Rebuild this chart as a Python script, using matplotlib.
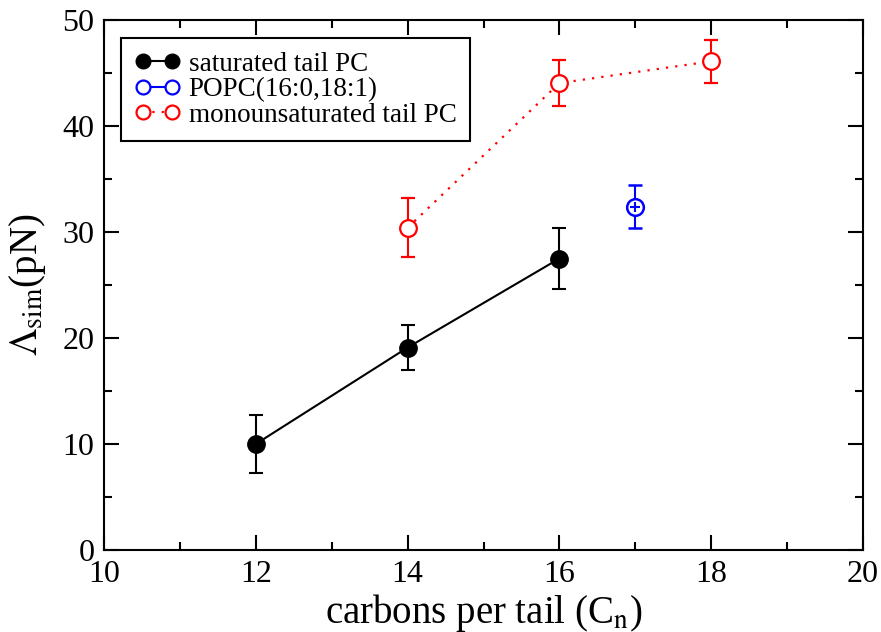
import matplotlib
matplotlib.use("Agg")
import matplotlib.pyplot as plt
from matplotlib.lines import Line2D
from matplotlib.ticker import MultipleLocator

plt.rcParams['font.family'] = ['Liberation Serif', 'DejaVu Serif']
plt.rcParams['mathtext.fontset'] = 'stix'

# Saturated-tail PC
sat_x = [12, 14, 16]
sat_y = [10.0, 19.1, 27.5]
sat_err = [2.7, 2.1, 2.9]

# POPC (16:0, 18:1)
popc_x = [17]
popc_y = [32.4]
popc_err = [2.0]

# Monounsaturated-tail PC
mono_x = [14, 16, 18]
mono_y = [30.4, 44.05, 46.1]
mono_err = [2.8, 2.2, 2.0]

labels = ["saturated tail PC", "POPC(16:0,18:1)", "monounsaturated tail PC"]

fig = plt.figure(figsize=(8.81, 6.32), dpi=100)
ax = fig.add_axes([104 / 881, 1 - 550 / 632, 759 / 881, 530 / 632])

ax.errorbar(sat_x, sat_y, yerr=sat_err, color='black', lw=1.5, marker='o',
            ms=12.5, mfc='black', mec='black', capsize=5, capthick=1.5,
            elinewidth=1.5, zorder=3)
ax.errorbar(mono_x, mono_y, yerr=mono_err, color='red', lw=1.6,
            linestyle=(0, (1, 3.2)), marker='o', ms=12, mfc='white',
            mec='red', mew=1.6, capsize=5, capthick=1.5, elinewidth=1.5,
            zorder=3)
ax.errorbar(popc_x, popc_y, yerr=popc_err, color='blue', lw=1.5, marker='o',
            ms=12, mfc='white', mec='blue', mew=1.8, capsize=5, capthick=1.5,
            elinewidth=1.5, zorder=3)
ax.plot(popc_x, popc_y, linestyle='none', marker='+', ms=7, mew=1.5,
        color='blue', zorder=4)

ax.set_xlim(10, 20)
ax.set_ylim(0, 50)
ax.xaxis.set_major_locator(MultipleLocator(2))
ax.xaxis.set_minor_locator(MultipleLocator(1))
ax.yaxis.set_major_locator(MultipleLocator(10))
ax.yaxis.set_minor_locator(MultipleLocator(5))
ax.tick_params(which='both', direction='in', top=True, right=True,
               width=1.5, labelsize=23)
ax.tick_params(which='major', length=11, pad=7)
ax.tick_params(which='minor', length=5.5)
for s in ax.spines.values():
    s.set_linewidth(1.5)

ax.set_xlabel(r"carbons per tail (C$_{\mathrm{n}}$)", fontsize=28, labelpad=2)
ax.set_ylabel(r"$\Lambda_{\mathrm{sim}}$(pN)", fontsize=28, labelpad=10)

handles = [
    Line2D([], [], color='black', lw=1.5, marker='o', ms=10.5, mfc='black'),
    Line2D([], [], color='blue', lw=1.5, marker='o', ms=10, mfc='white',
           mec='blue', mew=1.6),
    Line2D([], [], color='red', lw=1.6, linestyle=(0, (1, 3.2)), marker='o',
           ms=10, mfc='white', mec='red', mew=1.6),
]
leg = ax.legend(handles, labels, loc='upper left',
                bbox_to_anchor=(17 / 759, 1 - 18 / 530), borderaxespad=0,
                fontsize=19.5, numpoints=2, handlelength=1.7, handletextpad=0.3,
                labelspacing=0.02, borderpad=0.5, fancybox=False,
                framealpha=1, edgecolor='black')
leg.get_frame().set_linewidth(1.5)

fig.savefig("out.png", dpi=100)
